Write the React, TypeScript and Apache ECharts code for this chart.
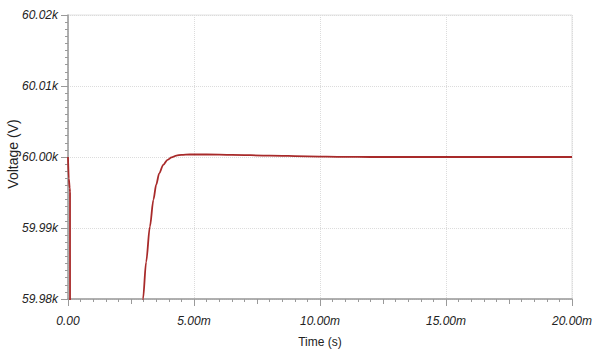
import React, { useEffect, useRef } from "react";
import * as echarts from "echarts";

// Time in milliseconds
const timeMs = [
  0, 0.03, 0.07, 0.08, 0.085, 0.09, 1.5, 2.7, 2.9, 2.976, 3.1, 3.25, 3.39, 3.5,
  3.62, 3.78, 3.95, 4.11, 4.3, 4.5, 4.84, 5.5, 6.5, 8.0, 9.5, 11.0, 12.0, 14.0,
  16.0, 18.0, 20.0,
];
// Voltage in volts
const voltage = [
  60000, 59997, 59995.6, 59995, 59900, 59500, 59700, 59940, 59973, 59980, 59985.2,
  59990.2, 59994, 59996.1, 59997.7, 59998.9, 59999.6, 59999.95, 60000.2, 60000.3,
  60000.35, 60000.35, 60000.3, 60000.2, 60000.1, 60000.03, 60000, 60000, 60000,
  60000, 60000,
];

const xTicks = [0, 0.005, 0.01, 0.015, 0.02];
const yTicks = [59980, 59990, 60000, 60010, 60020];

export default function App() {
  const ref = useRef<HTMLDivElement>(null);
  useEffect(() => {
    if (!ref.current) return;
    const chart = echarts.init(ref.current, undefined, { renderer: "svg" });
    const data = timeMs.map((t, i) => [t / 1000, voltage[i]]);
    const labelStyle = {
      fontFamily: "Liberation Sans, Arial, sans-serif",
      fontStyle: "italic" as const,
      fontSize: 12,
      color: "#222",
    };
    const nameStyle = {
      fontFamily: "Liberation Sans, Arial, sans-serif",
      fontSize: 12,
      color: "#222",
    };
    chart.setOption({
      animation: false,
      backgroundColor: "#fff",
      grid: {
        left: 68,
        right: 36,
        top: 15,
        bottom: 52,
        show: true,
        borderColor: "#e2e2e2",
        borderWidth: 1,
        outerBoundsMode: "none",
        containLabel: false,
      },
      graphic: [
        {
          type: "text",
          x: 13,
          y: 154,
          rotation: Math.PI / 2,
          style: {
            text: "Voltage (V)",
            align: "center",
            verticalAlign: "middle",
            fontFamily: "Liberation Sans, Arial, sans-serif",
            fontSize: 14,
            fill: "#222",
          },
        },
      ],
      xAxis: [
        {
          type: "value",
          min: xTicks[0],
          max: xTicks[xTicks.length - 1],
          interval: 0.005,
          name: "Time (s)",
          nameLocation: "middle",
          nameGap: 37,
          nameTextStyle: nameStyle,
          axisLine: { show: true, lineStyle: { color: "#9a9a9a", width: 1.5 } },
          axisTick: { show: true, length: 7, lineStyle: { color: "#9a9a9a" } },
          minorTick: { show: true, splitNumber: 10, length: 3, lineStyle: { color: "#9a9a9a" } },
          axisLabel: {
            ...labelStyle,
            margin: 16,
            formatter: (v: number) =>
              v === 0 ? "0.00" : (v * 1000).toFixed(2) + "m",
          },
          splitLine: { show: true, lineStyle: { color: "#dcdcdc", type: "dotted" } },
        },
        {
          type: "value",
          position: "bottom",
          min: 0,
          max: 0.02,
          interval: 0.0025,
          axisLine: { show: false },
          axisTick: { show: true, length: 5, lineStyle: { color: "#9a9a9a" } },
          axisLabel: { show: false },
          splitLine: { show: false },
        },
      ],
      yAxis: {
        type: "value",
        min: yTicks[0],
        max: yTicks[yTicks.length - 1],
        interval: 10,
        axisLine: { show: true, lineStyle: { color: "#9a9a9a", width: 1.5 } },
        axisTick: { show: true, length: 7, lineStyle: { color: "#9a9a9a" } },
        minorTick: { show: true, splitNumber: 10, length: 3, lineStyle: { color: "#9a9a9a" } },
        axisLabel: {
          ...labelStyle,
          margin: 10,
          formatter: (v: number) => (v / 1000).toFixed(2) + "k",
        },
        splitLine: { show: true, lineStyle: { color: "#dcdcdc", type: "dotted" } },
      },
      series: [
        {
          type: "line",
          xAxisIndex: 0,
          data,
          showSymbol: false,
          smooth: 0.3,
          smoothMonotone: "x",
          clip: true,
          lineStyle: { color: "#a82a2a", width: 1.8 },
        },
      ],
    });
    return () => chart.dispose();
  }, []);
  return (
    <div
      ref={ref}
      style={{ width: 608, height: 351, position: "absolute", left: 0, top: 0 }}
    />
  );
}
